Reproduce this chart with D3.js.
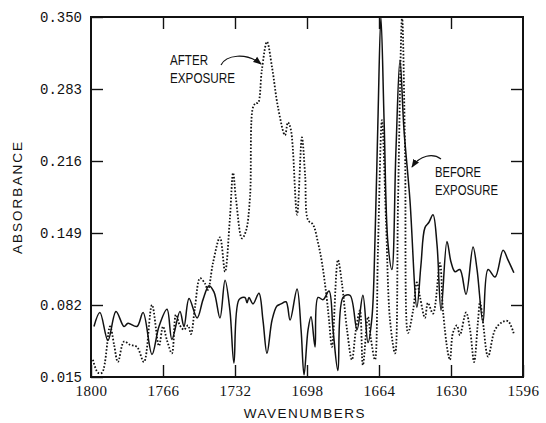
<!DOCTYPE html>
<html>
<head>
<meta charset="utf-8">
<script src="https://d3js.org/d3.v7.min.js"></script>
<style>
  body { margin: 0; background: #fff; }
  svg { display: block; }
</style>
</head>
<body>
<script>
// tick labels
const xTicks = [1800, 1766, 1732, 1698, 1664, 1630, 1596];
const yTicks = [0.015, 0.082, 0.149, 0.216, 0.283, 0.350];

// before exposure (solid)
const beforeWn = [1798.6, 1795.8, 1792.0, 1788.2, 1784.4, 1782.5, 1778.3, 1775.4, 1771.2, 1767.9,
  1764.1, 1761.8, 1758.0, 1756.1, 1753.7, 1749.9, 1747.1, 1744.3, 1741.9, 1739.1,
  1736.7, 1734.4, 1732.5, 1730.1, 1727.3, 1726.3, 1725.4, 1723.5, 1720.7, 1718.8,
  1716.9, 1714.5, 1712.2, 1710.3, 1707.9, 1706.0, 1702.7, 1700.8, 1699.4, 1697.5,
  1696.1, 1694.2, 1692.8, 1690.4, 1687.6, 1685.7, 1683.4, 1681.0, 1677.7, 1674.4,
  1671.6, 1669.2, 1667.3, 1665.9, 1664.5, 1663.1, 1661.6, 1659.8, 1657.9, 1656.0,
  1654.1, 1652.2, 1649.4, 1646.1, 1644.2, 1642.3, 1640.4, 1638.5, 1636.6, 1634.7,
  1631.9, 1630.0, 1628.1, 1625.8, 1622.9, 1619.6, 1617.7, 1614.9, 1612.5, 1609.2,
  1605.4, 1603.1, 1600.3];
const beforeAbs = [0.062, 0.075, 0.049, 0.076, 0.062, 0.065, 0.062, 0.075, 0.036, 0.062,
  0.078, 0.050, 0.076, 0.062, 0.088, 0.070, 0.087, 0.100, 0.094, 0.070,
  0.105, 0.077, 0.028, 0.087, 0.089, 0.084, 0.089, 0.083, 0.093, 0.068,
  0.037, 0.068, 0.081, 0.083, 0.085, 0.068, 0.097, 0.059, 0.017, 0.059,
  0.071, 0.043, 0.089, 0.087, 0.095, 0.059, 0.021, 0.089, 0.091, 0.059,
  0.091, 0.047, 0.071, 0.142, 0.254, 0.350, 0.254, 0.140, 0.115, 0.226,
  0.310, 0.245, 0.180, 0.080, 0.119, 0.154, 0.159, 0.166, 0.138, 0.077,
  0.141, 0.122, 0.113, 0.115, 0.092, 0.136, 0.115, 0.066, 0.115, 0.108,
  0.133, 0.124, 0.112];

// after exposure (dotted)
const afterWn = [1799.1, 1796.7, 1794.8, 1791.0, 1789.1, 1787.3, 1784.4, 1781.6, 1778.3, 1775.0,
  1771.2, 1767.9, 1766.0, 1764.1, 1761.8, 1759.9, 1758.0, 1756.1, 1754.2, 1752.8,
  1750.9, 1748.5, 1746.2, 1744.8, 1742.4, 1739.1, 1736.7, 1734.4, 1732.9, 1731.5,
  1728.7, 1726.8, 1724.9, 1723.5, 1722.1, 1721.1, 1719.3, 1716.9, 1714.5, 1711.7,
  1708.4, 1707.0, 1705.6, 1702.7, 1700.4, 1698.9, 1697.5, 1695.2, 1692.8, 1690.9,
  1688.6, 1687.6, 1686.2, 1683.4, 1681.5, 1679.1, 1676.8, 1674.9, 1673.0, 1671.6,
  1669.2, 1667.8, 1665.9, 1664.5, 1662.6, 1660.7, 1658.8, 1656.4, 1655.0, 1653.1,
  1651.7, 1650.3, 1647.9, 1646.1, 1644.6, 1642.3, 1640.9, 1638.5, 1635.2, 1633.8,
  1631.4, 1630.5, 1629.1, 1627.2, 1625.8, 1622.9, 1621.0, 1619.1, 1617.3, 1616.3,
  1614.9, 1612.5, 1609.2, 1605.9, 1603.1, 1600.3];
const afterAbs = [0.031, 0.019, 0.019, 0.062, 0.045, 0.029, 0.048, 0.045, 0.043, 0.029,
  0.082, 0.044, 0.062, 0.049, 0.037, 0.073, 0.063, 0.059, 0.063, 0.055,
  0.080, 0.107, 0.102, 0.096, 0.121, 0.145, 0.113, 0.163, 0.205, 0.180,
  0.144, 0.151, 0.183, 0.266, 0.270, 0.270, 0.301, 0.327, 0.303, 0.266,
  0.240, 0.252, 0.245, 0.166, 0.238, 0.203, 0.161, 0.157, 0.140, 0.121,
  0.087, 0.068, 0.043, 0.124, 0.102, 0.059, 0.031, 0.059, 0.077, 0.026,
  0.071, 0.050, 0.031, 0.133, 0.254, 0.161, 0.068, 0.037, 0.180, 0.350,
  0.226, 0.056, 0.077, 0.103, 0.089, 0.070, 0.084, 0.074, 0.121, 0.077,
  0.037, 0.031, 0.056, 0.063, 0.054, 0.075, 0.059, 0.029, 0.066, 0.085,
  0.066, 0.034, 0.059, 0.066, 0.067, 0.055];

const width = 546, height = 423;
const margin = {top: 17, right: 23, bottom: 46, left: 91};

const svg = d3.select("body").append("svg")
    .attr("width", width)
    .attr("height", height);

const x = d3.scaleLinear().domain([1800, 1596]).range([margin.left, width - margin.right]);
const y = d3.scaleLinear().domain([0.015, 0.350]).range([height - margin.bottom, margin.top]);

const defs = svg.append("defs");
defs.append("clipPath").attr("id", "plot")
  .append("rect")
    .attr("x", x(1800)).attr("y", y(0.350) - 1)
    .attr("width", x(1596) - x(1800)).attr("height", y(0.015) - y(0.350) + 1);

defs.append("marker")
    .attr("id", "head")
    .attr("viewBox", "0 0 10 10")
    .attr("refX", 9).attr("refY", 5)
    .attr("markerWidth", 7).attr("markerHeight", 7)
    .attr("orient", "auto")
  .append("path")
    .attr("d", "M0,1 L10,5 L0,9 Z")
    .attr("fill", "#111");

// axes, ticks pointing inward on every side
const axBottom = svg.append("g")
    .attr("transform", `translate(0,${y(0.015)})`)
    .call(d3.axisBottom(x).tickValues(xTicks).tickSize(-12).tickPadding(8).tickFormat(d3.format("d")));
const axTop = svg.append("g")
    .attr("transform", `translate(0,${y(0.350)})`)
    .call(d3.axisTop(x).tickValues(xTicks.slice(1, -1)).tickSize(-12).tickFormat(""));
const axLeft = svg.append("g")
    .attr("transform", `translate(${x(1800)},0)`)
    .call(d3.axisLeft(y).tickValues(yTicks).tickSize(-12).tickPadding(9).tickFormat(d3.format(".3f")));
const axRight = svg.append("g")
    .attr("transform", `translate(${x(1596)},0)`)
    .call(d3.axisRight(y).tickValues(yTicks.slice(1, -1)).tickSize(-12).tickFormat(""));

[axBottom, axTop, axLeft, axRight].forEach(g => {
  g.select(".domain").remove();
  g.selectAll(".tick line").attr("stroke", "#111").attr("stroke-width", 1.4);
});
axBottom.selectAll("text")
    .attr("fill", "#111")
    .style("font-family", "'Liberation Serif', serif")
    .style("font-size", "15px")
    .style("letter-spacing", "0.5px");
axLeft.selectAll("text")
    .attr("fill", "#111")
    .style("font-family", "'Liberation Mono', monospace")
    .style("font-size", "14px");

// data lines
const line = d3.line()
    .x(d => x(d[0]))
    .y(d => y(d[1]))
    .curve(d3.curveCatmullRom.alpha(0.5));

const lines = svg.append("g").attr("clip-path", "url(#plot)");
lines.append("path")
    .datum(afterWn.map((w, i) => [w, afterAbs[i]]))
    .attr("fill", "none")
    .attr("stroke", "#111")
    .attr("stroke-width", 1.8)
    .attr("stroke-dasharray", "1.6,1.8")
    .attr("d", line);
lines.append("path")
    .datum(beforeWn.map((w, i) => [w, beforeAbs[i]]))
    .attr("fill", "none")
    .attr("stroke", "#111")
    .attr("stroke-width", 1.5)
    .attr("d", line);

// frame
svg.append("rect")
    .attr("x", x(1800)).attr("y", y(0.350))
    .attr("width", x(1596) - x(1800)).attr("height", y(0.015) - y(0.350))
    .attr("fill", "none")
    .attr("stroke", "#111")
    .attr("stroke-width", 2);

// axis titles
svg.append("text")
    .attr("x", 305).attr("y", 418)
    .attr("text-anchor", "middle")
    .attr("fill", "#111")
    .style("font-family", "'Liberation Sans', sans-serif")
    .style("font-size", "13.5px")
    .style("letter-spacing", "1.5px")
    .text("WAVENUMBERS");
svg.append("text")
    .attr("transform", "translate(22,197) rotate(-90)")
    .attr("text-anchor", "middle")
    .attr("fill", "#111")
    .style("font-family", "'Liberation Sans', sans-serif")
    .style("font-size", "13.5px")
    .style("letter-spacing", "2px")
    .text("ABSORBANCE");

// annotations
function label(rows, x0, y0, widths) {
  rows.forEach((t, i) => {
    svg.append("text")
        .attr("x", x0).attr("y", y0 + i * 18)
        .attr("fill", "#111")
        .attr("textLength", widths[i])
        .attr("lengthAdjust", "spacingAndGlyphs")
        .style("font-family", "'Liberation Sans Narrow', 'Liberation Sans', sans-serif")
        .style("font-size", "14px")
        .text(t);
  });
}
label(["AFTER", "EXPOSURE"], 170, 65, [38, 65]);
label(["BEFORE", "EXPOSURE"], 435, 177, [46, 63]);

svg.append("path")
    .attr("d", "M221,65 C226,55 246,52 261,64")
    .attr("fill", "none").attr("stroke", "#111").attr("stroke-width", 1.2)
    .attr("marker-end", "url(#head)");
svg.append("path")
    .attr("d", "M441,159 C433,153 420,155 412,167")
    .attr("fill", "none").attr("stroke", "#111").attr("stroke-width", 1.2)
    .attr("marker-end", "url(#head)");
</script>
</body>
</html>
